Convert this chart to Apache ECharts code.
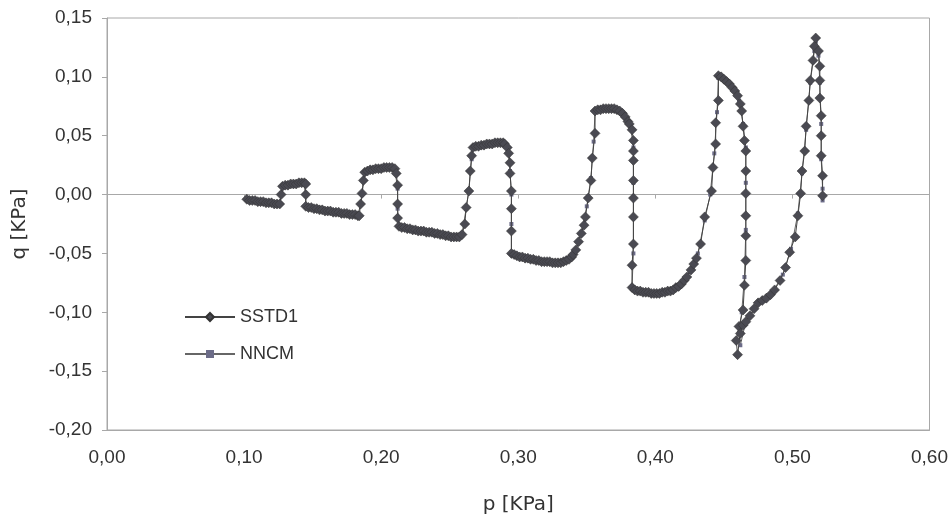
<!DOCTYPE html>
<html><head><meta charset="utf-8">
<script src="https://cdn.jsdelivr.net/npm/echarts@6/dist/echarts.min.js"></script>
<style>html,body{margin:0;padding:0;background:#fff}#c{width:951px;height:520px}</style>
</head><body><div id="c"></div>
<script>
const xTicks = [0, 0.1, 0.2, 0.3, 0.4, 0.5, 0.6];
const yTicks = [-0.2, -0.15, -0.1, -0.05, 0, 0.05, 0.1, 0.15];
const seriesNames = ['SSTD1', 'NNCM'];
const sstd1 = [
[0.102,-0.004],[0.104,-0.005],[0.106,-0.005],[0.108,-0.005],[0.110,-0.006],[0.112,-0.006],[0.114,-0.006],[0.116,-0.007],[0.118,-0.007],[0.120,-0.007],[0.122,-0.008],[0.124,-0.008],[0.126,-0.008],
[0.127,0.000],[0.128,0.007],[0.130,0.008],[0.132,0.008],[0.134,0.009],[0.136,0.009],[0.138,0.009],[0.140,0.010],[0.142,0.010],[0.144,0.010],[0.145,0.009],
[0.145,0.000],[0.145,-0.010],[0.147,-0.011],[0.149,-0.011],[0.151,-0.012],[0.153,-0.012],[0.155,-0.013],[0.157,-0.013],[0.159,-0.014],[0.161,-0.014],[0.163,-0.014],[0.165,-0.015],[0.167,-0.015],[0.169,-0.015],[0.171,-0.016],[0.173,-0.016],[0.175,-0.016],[0.177,-0.017],[0.179,-0.017],[0.181,-0.017],[0.183,-0.018],[0.184,-0.018],
[0.185,-0.008],[0.186,0.001],[0.187,0.012],[0.188,0.019],[0.190,0.020],[0.192,0.021],[0.194,0.021],[0.196,0.022],[0.198,0.022],[0.200,0.022],[0.202,0.023],[0.204,0.023],[0.206,0.023],[0.208,0.023],[0.210,0.022],[0.211,0.018],
[0.212,0.008],[0.212,-0.008],[0.212,-0.020],[0.213,-0.027],[0.215,-0.028],[0.217,-0.028],[0.219,-0.029],[0.221,-0.029],[0.223,-0.030],[0.225,-0.030],[0.227,-0.031],[0.229,-0.031],[0.231,-0.031],[0.233,-0.032],[0.235,-0.032],[0.237,-0.032],[0.239,-0.033],[0.241,-0.033],[0.243,-0.034],[0.245,-0.034],[0.247,-0.035],[0.249,-0.035],[0.251,-0.036],[0.253,-0.036],[0.255,-0.036],[0.257,-0.036],[0.259,-0.034],
[0.261,-0.025],[0.262,-0.011],[0.264,0.003],[0.265,0.020],[0.266,0.033],[0.267,0.040],[0.269,0.041],[0.271,0.041],[0.273,0.042],[0.275,0.042],[0.277,0.043],[0.279,0.043],[0.281,0.043],[0.283,0.044],[0.285,0.044],[0.287,0.044],[0.289,0.044],[0.290,0.043],[0.292,0.040],[0.293,0.035],
[0.294,0.027],[0.294,0.018],[0.295,0.003],[0.295,-0.012],[0.295,-0.031],[0.295,-0.050],
[0.297,-0.051],[0.299,-0.052],[0.301,-0.053],[0.303,-0.053],[0.305,-0.054],[0.307,-0.054],[0.309,-0.055],[0.311,-0.055],[0.313,-0.056],[0.315,-0.056],[0.317,-0.057],[0.319,-0.057],[0.321,-0.057],[0.323,-0.057],[0.325,-0.058],[0.327,-0.058],[0.329,-0.058],[0.331,-0.058],[0.333,-0.057],[0.335,-0.056],[0.337,-0.055],[0.339,-0.053],[0.340,-0.051],[0.342,-0.047],
[0.344,-0.040],[0.346,-0.033],[0.348,-0.026],[0.349,-0.019],[0.351,-0.003],[0.353,0.012],[0.354,0.031],[0.356,0.052],[0.356,0.071],
[0.358,0.072],[0.360,0.072],[0.362,0.073],[0.364,0.073],[0.366,0.073],[0.368,0.073],[0.370,0.073],[0.372,0.072],[0.374,0.071],[0.376,0.069],[0.378,0.066],[0.380,0.062],[0.381,0.060],[0.383,0.055],
[0.384,0.046],[0.384,0.037],[0.384,0.029],[0.384,0.012],[0.384,-0.003],[0.384,-0.019],[0.384,-0.042],[0.383,-0.060],[0.383,-0.079],
[0.385,-0.081],[0.387,-0.082],[0.389,-0.082],[0.391,-0.083],[0.393,-0.083],[0.395,-0.083],[0.397,-0.084],[0.399,-0.084],[0.401,-0.084],[0.403,-0.084],[0.405,-0.083],[0.407,-0.083],[0.409,-0.082],[0.411,-0.082],[0.413,-0.081],[0.415,-0.079],[0.417,-0.078],[0.419,-0.076],[0.421,-0.073],[0.423,-0.070],
[0.426,-0.064],[0.428,-0.059],[0.430,-0.054],[0.433,-0.042],[0.436,-0.019],[0.441,0.003],[0.442,0.023],[0.444,0.043],[0.444,0.061],[0.446,0.080],[0.446,0.101],
[0.448,0.100],[0.450,0.098],[0.452,0.096],[0.454,0.094],[0.456,0.091],[0.458,0.088],[0.460,0.084],[0.462,0.077],[0.463,0.071],[0.464,0.058],[0.465,0.046],[0.466,0.037],
[0.466,0.020],[0.466,0.001],[0.466,-0.018],[0.466,-0.035],[0.466,-0.056],[0.465,-0.077],[0.464,-0.098],[0.461,-0.112],[0.459,-0.124],[0.460,-0.136],
[0.462,-0.118],[0.464,-0.111],[0.466,-0.108],[0.469,-0.103],[0.472,-0.097],[0.475,-0.092],[0.478,-0.090],[0.481,-0.088],[0.484,-0.085],[0.487,-0.081],[0.491,-0.073],[0.495,-0.062],[0.498,-0.049],[0.502,-0.036],[0.504,-0.018],[0.506,0.001],[0.507,0.020],[0.509,0.037],[0.510,0.058],[0.512,0.080],[0.513,0.097],[0.515,0.114],[0.516,0.126],[0.517,0.133],
[0.519,0.122],[0.520,0.109],[0.520,0.097],[0.520,0.082],[0.521,0.067],[0.521,0.050],[0.521,0.033],[0.522,0.016],[0.522,-0.001]
];
const nncm = [
[0.102,-0.004],[0.106,-0.005],[0.110,-0.006],[0.114,-0.006],[0.118,-0.007],[0.122,-0.008],[0.126,-0.008],
[0.127,0.001],[0.128,0.007],[0.132,0.008],[0.136,0.009],[0.140,0.010],[0.144,0.009],
[0.145,-0.001],[0.145,-0.010],[0.150,-0.011],[0.155,-0.012],[0.160,-0.013],[0.165,-0.014],[0.170,-0.015],[0.175,-0.016],[0.180,-0.017],[0.184,-0.018],
[0.186,0.000],[0.188,0.018],[0.192,0.020],[0.197,0.021],[0.202,0.022],[0.207,0.022],[0.210,0.021],
[0.212,0.005],[0.212,-0.012],[0.213,-0.027],[0.218,-0.028],[0.224,-0.029],[0.230,-0.030],[0.236,-0.031],[0.242,-0.033],[0.248,-0.034],[0.254,-0.035],[0.259,-0.033],
[0.262,-0.012],[0.264,0.004],[0.266,0.030],[0.267,0.039],[0.272,0.041],[0.277,0.042],[0.282,0.043],[0.287,0.043],[0.291,0.041],[0.293,0.034],
[0.294,0.020],[0.295,0.000],[0.295,-0.025],[0.295,-0.049],[0.300,-0.052],[0.306,-0.053],[0.312,-0.055],[0.318,-0.056],[0.324,-0.057],[0.330,-0.057],[0.336,-0.056],[0.341,-0.050],
[0.346,-0.032],[0.350,-0.010],[0.353,0.014],[0.355,0.045],[0.356,0.070],[0.361,0.072],[0.366,0.072],[0.371,0.072],[0.376,0.068],[0.382,0.057],
[0.384,0.040],[0.384,0.010],[0.384,-0.020],[0.384,-0.050],[0.383,-0.078],[0.389,-0.082],[0.395,-0.083],[0.401,-0.083],[0.407,-0.082],[0.413,-0.080],[0.419,-0.076],[0.425,-0.066],
[0.431,-0.050],[0.436,-0.022],[0.440,0.000],[0.443,0.035],[0.445,0.070],[0.446,0.099],[0.451,0.097],[0.456,0.091],[0.461,0.080],[0.464,0.060],[0.466,0.040],
[0.466,0.010],[0.466,-0.030],[0.465,-0.070],[0.463,-0.100],[0.461,-0.118],[0.462,-0.128],
[0.466,-0.108],[0.472,-0.098],[0.479,-0.090],[0.486,-0.082],[0.493,-0.068],[0.499,-0.046],[0.504,-0.016],[0.507,0.018],[0.510,0.055],[0.513,0.095],[0.516,0.122],[0.517,0.130],
[0.519,0.118],[0.520,0.095],[0.521,0.060],[0.521,0.030],[0.522,0.005],[0.522,-0.005]
];

const fmt = v => (Math.abs(v) < 1e-9 ? 0 : v).toFixed(2).replace('.', ',');
const FONT = 'Liberation Sans, Arial, sans-serif';
const NAMEFONT = 'DejaVu Sans, sans-serif';
const chart = echarts.init(document.getElementById('c'));
chart.setOption({
  animation: false,
  backgroundColor: '#fff',
  textStyle: { fontFamily: FONT },
  grid: { left: 107, right: 18, top: 18, bottom: 89, show: true, borderColor: '#a8a8a8', borderWidth: 1 },
  legend: {
    orient: 'vertical', left: 179, top: 303, itemWidth: 50, itemHeight: 10, itemGap: 19,
    textStyle: { fontSize: 18, color: '#333', fontFamily: FONT },
    data: seriesNames
  },
  xAxis: [{
    type: 'value', min: xTicks[0], max: xTicks[xTicks.length-1], interval: 0.1,
    position: 'bottom',
    axisLine: { onZero: false, lineStyle: { color: '#a8a8a8' } },
    axisTick: { show: false },
    splitLine: { show: false },
    axisLabel: { formatter: fmt, fontSize: 19, color: '#333', margin: 18 },
    name: 'p [KPa]', nameLocation: 'middle', nameGap: 65,
    nameTextStyle: { fontSize: 20, color: '#333', fontFamily: NAMEFONT }
  }, {
    type: 'value', min: xTicks[0], max: xTicks[xTicks.length-1], interval: 0.1,
    position: 'bottom',
    axisLine: { onZero: true, lineStyle: { color: '#a8a8a8' } },
    axisTick: { show: true, length: 4, lineStyle: { color: '#a8a8a8' } },
    splitLine: { show: false },
    axisLabel: { show: false }
  }],
  yAxis: {
    type: 'value', min: yTicks[0], max: yTicks[yTicks.length-1], interval: 0.05,
    axisLine: { show: true, onZero: false, lineStyle: { color: '#a8a8a8' } },
    axisTick: { show: true, length: 5, lineStyle: { color: '#a8a8a8' } },
    splitLine: { show: false },
    axisLabel: { formatter: fmt, fontSize: 19, color: '#333', margin: 15 },
    name: 'q [KPa]', nameLocation: 'middle', nameGap: 77, nameRotate: 90,
    nameTextStyle: { fontSize: 20, color: '#333', fontFamily: NAMEFONT }
  },
  series: [{
    name: seriesNames[0], type: 'line', data: sstd1, xAxisIndex: 0,
    symbol: 'diamond', symbolSize: 10, showAllSymbol: true,
    lineStyle: { color: '#444', width: 1 },
    itemStyle: { color: '#4a4a52', borderColor: '#333', borderWidth: 0.5 },
    z: 3
  }, {
    name: seriesNames[1], type: 'line', data: nncm, xAxisIndex: 0,
    symbol: 'rect', symbolSize: 4, showAllSymbol: true,
    lineStyle: { color: '#666', width: 1 },
    itemStyle: { color: '#6c6c88' },
    z: 2
  }]
});
</script></body></html>
